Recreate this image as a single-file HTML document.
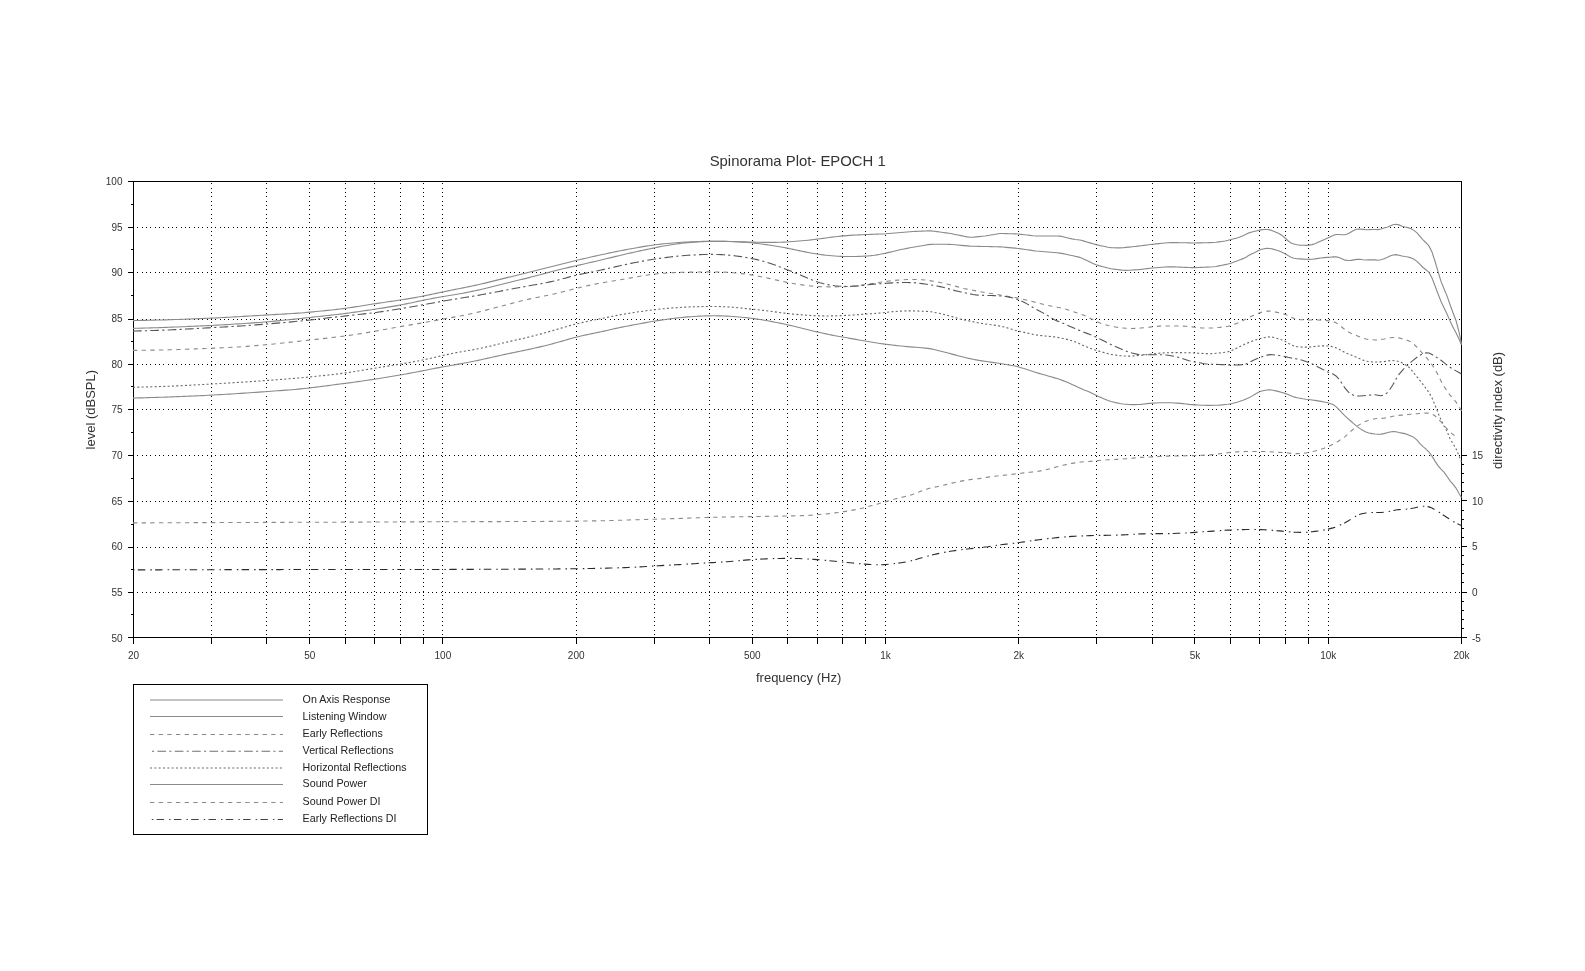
<!DOCTYPE html><html><head><meta charset="utf-8"><style>html,body{margin:0;padding:0;background:#fff;width:1585px;height:971px;overflow:hidden}svg{display:block;will-change:transform}</style></head><body><svg width="1585" height="971" viewBox="0 0 1585 971">
<defs><pattern id="dh" patternUnits="userSpaceOnUse" x="12" y="0" width="13" height="2"><rect x="0" y="0" width="1" height="2" fill="#000"/><rect x="4" y="0" width="1" height="2" fill="#000"/><rect x="8" y="0" width="1" height="2" fill="#000"/></pattern>
<pattern id="dv" patternUnits="userSpaceOnUse" x="0" y="6" width="2" height="13"><rect x="0" y="0" width="2" height="1" fill="#000"/><rect x="0" y="4" width="2" height="1" fill="#000"/><rect x="0" y="8" width="2" height="1" fill="#000"/></pattern></defs>
<rect width="1585" height="971" fill="#fff"/>
<rect x="211" y="183" width="1" height="454" fill="url(#dv)"/>
<rect x="266" y="183" width="1" height="454" fill="url(#dv)"/>
<rect x="309" y="183" width="1" height="454" fill="url(#dv)"/>
<rect x="345" y="183" width="1" height="454" fill="url(#dv)"/>
<rect x="374" y="183" width="1" height="454" fill="url(#dv)"/>
<rect x="400" y="183" width="1" height="454" fill="url(#dv)"/>
<rect x="423" y="183" width="1" height="454" fill="url(#dv)"/>
<rect x="442" y="183" width="1" height="454" fill="url(#dv)"/>
<rect x="576" y="183" width="1" height="454" fill="url(#dv)"/>
<rect x="654" y="183" width="1" height="454" fill="url(#dv)"/>
<rect x="709" y="183" width="1" height="454" fill="url(#dv)"/>
<rect x="752" y="183" width="1" height="454" fill="url(#dv)"/>
<rect x="787" y="183" width="1" height="454" fill="url(#dv)"/>
<rect x="817" y="183" width="1" height="454" fill="url(#dv)"/>
<rect x="842" y="183" width="1" height="454" fill="url(#dv)"/>
<rect x="865" y="183" width="1" height="454" fill="url(#dv)"/>
<rect x="885" y="183" width="1" height="454" fill="url(#dv)"/>
<rect x="1018" y="183" width="1" height="454" fill="url(#dv)"/>
<rect x="1096" y="183" width="1" height="454" fill="url(#dv)"/>
<rect x="1152" y="183" width="1" height="454" fill="url(#dv)"/>
<rect x="1194" y="183" width="1" height="454" fill="url(#dv)"/>
<rect x="1230" y="183" width="1" height="454" fill="url(#dv)"/>
<rect x="1259" y="183" width="1" height="454" fill="url(#dv)"/>
<rect x="1285" y="183" width="1" height="454" fill="url(#dv)"/>
<rect x="1308" y="183" width="1" height="454" fill="url(#dv)"/>
<rect x="1328" y="183" width="1" height="454" fill="url(#dv)"/>
<rect x="137" y="592" width="1324" height="1" fill="url(#dh)"/>
<rect x="137" y="547" width="1324" height="1" fill="url(#dh)"/>
<rect x="137" y="501" width="1324" height="1" fill="url(#dh)"/>
<rect x="137" y="455" width="1324" height="1" fill="url(#dh)"/>
<rect x="137" y="409" width="1324" height="1" fill="url(#dh)"/>
<rect x="137" y="364" width="1324" height="1" fill="url(#dh)"/>
<rect x="137" y="319" width="1324" height="1" fill="url(#dh)"/>
<rect x="137" y="272" width="1324" height="1" fill="url(#dh)"/>
<rect x="137" y="227" width="1324" height="1" fill="url(#dh)"/>
<g fill="#000" shape-rendering="crispEdges">
<rect x="128" y="181" width="1334" height="1"/>
<rect x="133" y="637" width="1329" height="1"/>
<rect x="133" y="181" width="1" height="463"/>
<rect x="1461" y="181" width="1" height="463"/>
<rect x="128" y="637" width="5" height="1"/>
<rect x="131" y="614" width="2" height="1"/>
<rect x="128" y="592" width="5" height="1"/>
<rect x="131" y="569" width="2" height="1"/>
<rect x="128" y="547" width="5" height="1"/>
<rect x="131" y="524" width="2" height="1"/>
<rect x="128" y="501" width="5" height="1"/>
<rect x="131" y="478" width="2" height="1"/>
<rect x="128" y="455" width="5" height="1"/>
<rect x="131" y="432" width="2" height="1"/>
<rect x="128" y="409" width="5" height="1"/>
<rect x="131" y="386" width="2" height="1"/>
<rect x="128" y="364" width="5" height="1"/>
<rect x="131" y="341" width="2" height="1"/>
<rect x="128" y="319" width="5" height="1"/>
<rect x="131" y="295" width="2" height="1"/>
<rect x="128" y="272" width="5" height="1"/>
<rect x="131" y="249" width="2" height="1"/>
<rect x="128" y="227" width="5" height="1"/>
<rect x="131" y="204" width="2" height="1"/>
<rect x="128" y="181" width="5" height="1"/>
<rect x="1462" y="637" width="5" height="1"/>
<rect x="1462" y="628" width="2" height="1"/>
<rect x="1462" y="619" width="2" height="1"/>
<rect x="1462" y="610" width="2" height="1"/>
<rect x="1462" y="601" width="2" height="1"/>
<rect x="1462" y="592" width="5" height="1"/>
<rect x="1462" y="582" width="2" height="1"/>
<rect x="1462" y="573" width="2" height="1"/>
<rect x="1462" y="564" width="2" height="1"/>
<rect x="1462" y="555" width="2" height="1"/>
<rect x="1462" y="546" width="5" height="1"/>
<rect x="1462" y="537" width="2" height="1"/>
<rect x="1462" y="528" width="2" height="1"/>
<rect x="1462" y="519" width="2" height="1"/>
<rect x="1462" y="510" width="2" height="1"/>
<rect x="1462" y="500" width="5" height="1"/>
<rect x="1462" y="491" width="2" height="1"/>
<rect x="1462" y="482" width="2" height="1"/>
<rect x="1462" y="473" width="2" height="1"/>
<rect x="1462" y="464" width="2" height="1"/>
<rect x="1462" y="455" width="5" height="1"/>
<rect x="133" y="638" width="1" height="6"/>
<rect x="211" y="638" width="1" height="6"/>
<rect x="266" y="638" width="1" height="6"/>
<rect x="309" y="638" width="1" height="6"/>
<rect x="345" y="638" width="1" height="6"/>
<rect x="374" y="638" width="1" height="6"/>
<rect x="400" y="638" width="1" height="6"/>
<rect x="423" y="638" width="1" height="6"/>
<rect x="442" y="638" width="1" height="6"/>
<rect x="576" y="638" width="1" height="6"/>
<rect x="654" y="638" width="1" height="6"/>
<rect x="709" y="638" width="1" height="6"/>
<rect x="752" y="638" width="1" height="6"/>
<rect x="787" y="638" width="1" height="6"/>
<rect x="817" y="638" width="1" height="6"/>
<rect x="842" y="638" width="1" height="6"/>
<rect x="865" y="638" width="1" height="6"/>
<rect x="885" y="638" width="1" height="6"/>
<rect x="1018" y="638" width="1" height="6"/>
<rect x="1096" y="638" width="1" height="6"/>
<rect x="1152" y="638" width="1" height="6"/>
<rect x="1194" y="638" width="1" height="6"/>
<rect x="1230" y="638" width="1" height="6"/>
<rect x="1259" y="638" width="1" height="6"/>
<rect x="1285" y="638" width="1" height="6"/>
<rect x="1308" y="638" width="1" height="6"/>
<rect x="1328" y="638" width="1" height="6"/>
<rect x="1461" y="638" width="1" height="6"/>
</g>
<g fill="none" stroke-width="1.1">
<path d="M133.0,320.60 L136.0,320.54 L139.0,320.47 L142.0,320.41 L145.0,320.34 L148.0,320.28 L151.0,320.21 L154.0,320.14 L157.0,320.07 L160.0,320.00 L163.0,319.93 L166.0,319.85 L169.0,319.76 L172.0,319.67 L175.0,319.57 L178.0,319.47 L181.0,319.36 L184.0,319.25 L187.0,319.13 L190.0,319.02 L193.0,318.90 L196.0,318.78 L199.0,318.66 L202.0,318.54 L205.0,318.41 L208.0,318.27 L211.0,318.14 L214.0,317.99 L217.0,317.84 L220.0,317.69 L223.0,317.53 L226.0,317.37 L229.0,317.20 L232.0,317.03 L235.0,316.86 L238.0,316.69 L241.0,316.52 L244.0,316.34 L247.0,316.16 L250.0,315.98 L253.0,315.80 L256.0,315.62 L259.0,315.44 L262.0,315.27 L265.0,315.09 L268.0,314.92 L271.0,314.75 L274.0,314.59 L277.0,314.42 L280.0,314.26 L283.0,314.09 L286.0,313.92 L289.0,313.75 L292.0,313.56 L295.0,313.37 L298.0,313.15 L301.0,312.93 L304.0,312.68 L307.0,312.41 L310.0,312.14 L313.0,311.85 L316.0,311.55 L319.0,311.25 L322.0,310.95 L325.0,310.64 L328.0,310.33 L331.0,310.01 L334.0,309.68 L337.0,309.34 L340.0,308.99 L343.0,308.61 L346.0,308.21 L349.0,307.79 L352.0,307.35 L355.0,306.89 L358.0,306.42 L361.0,305.95 L364.0,305.47 L367.0,304.99 L370.0,304.51 L373.0,304.05 L376.0,303.59 L379.0,303.13 L382.0,302.69 L385.0,302.25 L388.0,301.81 L391.0,301.37 L394.0,300.92 L397.0,300.48 L400.0,300.02 L403.0,299.56 L406.0,299.09 L409.0,298.61 L412.0,298.11 L415.0,297.59 L418.0,297.05 L421.0,296.49 L424.0,295.90 L427.0,295.29 L430.0,294.66 L433.0,294.02 L436.0,293.37 L439.0,292.73 L442.0,292.09 L445.0,291.47 L448.0,290.86 L451.0,290.25 L454.0,289.66 L457.0,289.07 L460.0,288.47 L463.0,287.87 L466.0,287.27 L469.0,286.66 L472.0,286.03 L475.0,285.39 L478.0,284.73 L481.0,284.05 L484.0,283.35 L487.0,282.63 L490.0,281.90 L493.0,281.15 L496.0,280.40 L499.0,279.65 L502.0,278.90 L505.0,278.15 L508.0,277.40 L511.0,276.66 L514.0,275.91 L517.0,275.18 L520.0,274.44 L523.0,273.70 L526.0,272.96 L529.0,272.22 L532.0,271.47 L535.0,270.72 L538.0,269.97 L541.0,269.22 L544.0,268.47 L547.0,267.71 L550.0,266.96 L553.0,266.20 L556.0,265.45 L559.0,264.69 L562.0,263.94 L565.0,263.19 L568.0,262.45 L571.0,261.72 L574.0,260.99 L577.0,260.27 L580.0,259.56 L583.0,258.87 L586.0,258.18 L589.0,257.49 L592.0,256.82 L595.0,256.15 L598.0,255.48 L601.0,254.82 L604.0,254.17 L607.0,253.53 L610.0,252.89 L613.0,252.26 L616.0,251.64 L619.0,251.04 L622.0,250.45 L625.0,249.87 L628.0,249.31 L631.0,248.75 L634.0,248.21 L637.0,247.67 L640.0,247.15 L643.0,246.63 L646.0,246.14 L649.0,245.67 L652.0,245.23 L655.0,244.81 L658.0,244.43 L661.0,244.08 L664.0,243.76 L667.0,243.46 L670.0,243.19 L673.0,242.93 L676.0,242.70 L679.0,242.48 L682.0,242.29 L685.0,242.12 L688.0,241.97 L691.0,241.83 L694.0,241.70 L697.0,241.59 L700.0,241.50 L703.0,241.42 L706.0,241.35 L709.0,241.31 L712.0,241.29 L715.0,241.28 L718.0,241.29 L721.0,241.32 L724.0,241.37 L727.0,241.42 L730.0,241.49 L733.0,241.57 L736.0,241.65 L739.0,241.74 L742.0,241.83 L745.0,241.92 L748.0,242.01 L751.0,242.09 L754.0,242.17 L757.0,242.23 L760.0,242.29 L763.0,242.33 L766.0,242.36 L769.0,242.38 L772.0,242.37 L775.0,242.35 L778.0,242.29 L781.0,242.21 L784.0,242.09 L787.0,241.94 L790.0,241.76 L793.0,241.55 L796.0,241.31 L799.0,241.05 L802.0,240.77 L805.0,240.48 L808.0,240.18 L811.0,239.85 L814.0,239.51 L817.0,239.15 L820.0,238.76 L823.0,238.37 L826.0,237.96 L829.0,237.56 L832.0,237.17 L835.0,236.79 L838.0,236.45 L841.0,236.13 L844.0,235.85 L847.0,235.60 L850.0,235.38 L853.0,235.17 L856.0,234.99 L859.0,234.83 L862.0,234.69 L865.0,234.56 L868.0,234.44 L871.0,234.33 L874.0,234.23 L877.0,234.14 L880.0,234.04 L883.0,233.93 L886.0,233.78 L889.0,233.55 L892.0,233.28 L895.0,233.02 L898.0,232.76 L901.0,232.49 L904.0,232.23 L907.0,231.97 L910.0,231.73 L913.0,231.55 L916.0,231.40 L919.0,231.25 L922.0,231.10 L925.0,230.95 L928.0,230.82 L931.0,230.89 L934.0,231.24 L937.0,231.65 L940.0,232.05 L943.0,232.46 L946.0,232.86 L949.0,233.29 L952.0,233.82 L955.0,234.43 L958.0,235.04 L961.0,235.65 L964.0,236.27 L967.0,236.88 L970.0,237.29 L973.0,237.19 L976.0,236.90 L979.0,236.60 L982.0,236.30 L985.0,235.95 L988.0,235.48 L991.0,234.96 L994.0,234.44 L997.0,233.93 L1000.0,233.54 L1003.0,233.51 L1006.0,233.60 L1009.0,233.70 L1012.0,233.80 L1015.0,233.90 L1018.0,234.06 L1021.0,234.36 L1024.0,234.71 L1027.0,235.06 L1030.0,235.41 L1033.0,235.75 L1036.0,235.96 L1039.0,236.00 L1042.0,236.00 L1045.0,236.00 L1048.0,236.00 L1051.0,236.00 L1054.0,236.00 L1057.0,236.01 L1060.0,236.17 L1063.0,236.73 L1066.0,237.44 L1069.0,238.16 L1072.0,238.87 L1075.0,239.47 L1078.0,239.80 L1081.0,240.27 L1084.0,241.10 L1087.0,242.00 L1090.0,242.90 L1093.0,243.80 L1096.0,244.64 L1099.0,245.32 L1102.0,245.94 L1105.0,246.56 L1108.0,247.17 L1111.0,247.59 L1114.0,247.76 L1117.0,247.88 L1120.0,247.90 L1123.0,247.70 L1126.0,247.40 L1129.0,247.10 L1132.0,246.80 L1135.0,246.48 L1138.0,246.11 L1141.0,245.72 L1144.0,245.34 L1147.0,244.95 L1150.0,244.56 L1153.0,244.21 L1156.0,243.90 L1159.0,243.60 L1162.0,243.30 L1165.0,243.00 L1168.0,242.71 L1171.0,242.56 L1174.0,242.58 L1177.0,242.64 L1180.0,242.70 L1183.0,242.76 L1186.0,242.82 L1189.0,242.88 L1192.0,242.94 L1195.0,242.97 L1198.0,242.92 L1201.0,242.85 L1204.0,242.77 L1207.0,242.70 L1210.0,242.62 L1213.0,242.54 L1216.0,242.32 L1219.0,241.92 L1222.0,241.48 L1225.0,241.01 L1228.0,240.34 L1231.0,239.54 L1234.0,238.73 L1237.0,237.91 L1240.0,236.95 L1243.0,235.65 L1246.0,234.22 L1249.0,232.87 L1252.0,231.93 L1255.0,231.24 L1258.0,230.48 L1261.0,229.86 L1264.0,229.54 L1267.0,229.51 L1270.0,229.91 L1273.0,231.04 L1276.0,232.30 L1279.0,233.51 L1282.0,235.44 L1285.0,238.00 L1288.0,240.77 L1291.0,242.94 L1294.0,244.09 L1297.0,244.75 L1300.0,245.13 L1303.0,245.31 L1306.0,245.33 L1309.0,245.16 L1312.0,244.61 L1315.0,243.66 L1318.0,242.36 L1321.0,241.00 L1324.0,239.70 L1327.0,238.33 L1330.0,236.89 L1333.0,235.45 L1336.0,234.56 L1339.0,234.46 L1342.0,234.76 L1345.0,234.81 L1348.0,233.70 L1351.0,232.00 L1354.0,230.23 L1357.0,229.23 L1360.0,229.02 L1363.0,229.38 L1366.0,229.69 L1369.0,229.63 L1372.0,229.49 L1375.0,229.49 L1378.0,229.61 L1381.0,228.97 L1384.0,228.07 L1387.0,227.17 L1390.0,225.99 L1393.0,224.83 L1396.0,224.26 L1399.0,224.88 L1402.0,226.18 L1405.0,227.05 L1408.0,227.61 L1411.0,228.65 L1414.0,230.33 L1417.0,232.84 L1420.0,236.41 L1423.0,239.84 L1426.0,242.74 L1429.0,246.14 L1432.0,252.05 L1435.0,261.25 L1438.0,271.45 L1441.0,281.39 L1444.0,288.81 L1447.0,295.87 L1450.0,304.55 L1453.0,312.69 L1456.0,320.54 L1459.0,331.97 L1461.5,343.90" stroke="#8a8a8a" />
<path d="M133.0,328.40 L136.0,328.31 L139.0,328.22 L142.0,328.13 L145.0,328.04 L148.0,327.95 L151.0,327.86 L154.0,327.77 L157.0,327.68 L160.0,327.59 L163.0,327.49 L166.0,327.39 L169.0,327.28 L172.0,327.17 L175.0,327.05 L178.0,326.93 L181.0,326.81 L184.0,326.68 L187.0,326.55 L190.0,326.42 L193.0,326.29 L196.0,326.15 L199.0,326.02 L202.0,325.88 L205.0,325.74 L208.0,325.59 L211.0,325.44 L214.0,325.28 L217.0,325.12 L220.0,324.96 L223.0,324.79 L226.0,324.61 L229.0,324.44 L232.0,324.26 L235.0,324.07 L238.0,323.88 L241.0,323.69 L244.0,323.50 L247.0,323.30 L250.0,323.09 L253.0,322.88 L256.0,322.66 L259.0,322.44 L262.0,322.21 L265.0,321.96 L268.0,321.71 L271.0,321.44 L274.0,321.16 L277.0,320.88 L280.0,320.59 L283.0,320.29 L286.0,319.99 L289.0,319.69 L292.0,319.39 L295.0,319.08 L298.0,318.77 L301.0,318.45 L304.0,318.13 L307.0,317.81 L310.0,317.48 L313.0,317.15 L316.0,316.82 L319.0,316.49 L322.0,316.15 L325.0,315.82 L328.0,315.48 L331.0,315.14 L334.0,314.80 L337.0,314.45 L340.0,314.09 L343.0,313.72 L346.0,313.34 L349.0,312.94 L352.0,312.54 L355.0,312.12 L358.0,311.70 L361.0,311.27 L364.0,310.83 L367.0,310.39 L370.0,309.95 L373.0,309.50 L376.0,309.04 L379.0,308.58 L382.0,308.11 L385.0,307.64 L388.0,307.15 L391.0,306.66 L394.0,306.14 L397.0,305.61 L400.0,305.06 L403.0,304.49 L406.0,303.90 L409.0,303.29 L412.0,302.67 L415.0,302.04 L418.0,301.40 L421.0,300.77 L424.0,300.15 L427.0,299.53 L430.0,298.93 L433.0,298.34 L436.0,297.78 L439.0,297.24 L442.0,296.72 L445.0,296.22 L448.0,295.74 L451.0,295.26 L454.0,294.77 L457.0,294.26 L460.0,293.74 L463.0,293.19 L466.0,292.62 L469.0,292.03 L472.0,291.41 L475.0,290.77 L478.0,290.11 L481.0,289.43 L484.0,288.72 L487.0,288.00 L490.0,287.26 L493.0,286.51 L496.0,285.75 L499.0,284.99 L502.0,284.24 L505.0,283.49 L508.0,282.75 L511.0,282.02 L514.0,281.29 L517.0,280.56 L520.0,279.83 L523.0,279.10 L526.0,278.35 L529.0,277.60 L532.0,276.83 L535.0,276.04 L538.0,275.25 L541.0,274.45 L544.0,273.65 L547.0,272.85 L550.0,272.06 L553.0,271.28 L556.0,270.52 L559.0,269.77 L562.0,269.03 L565.0,268.31 L568.0,267.60 L571.0,266.90 L574.0,266.21 L577.0,265.52 L580.0,264.84 L583.0,264.17 L586.0,263.49 L589.0,262.81 L592.0,262.13 L595.0,261.44 L598.0,260.74 L601.0,260.03 L604.0,259.31 L607.0,258.58 L610.0,257.85 L613.0,257.12 L616.0,256.39 L619.0,255.67 L622.0,254.96 L625.0,254.26 L628.0,253.58 L631.0,252.90 L634.0,252.23 L637.0,251.56 L640.0,250.90 L643.0,250.25 L646.0,249.61 L649.0,248.97 L652.0,248.35 L655.0,247.74 L658.0,247.15 L661.0,246.57 L664.0,246.01 L667.0,245.47 L670.0,244.95 L673.0,244.47 L676.0,244.01 L679.0,243.60 L682.0,243.24 L685.0,242.91 L688.0,242.62 L691.0,242.37 L694.0,242.15 L697.0,241.95 L700.0,241.78 L703.0,241.63 L706.0,241.51 L709.0,241.42 L712.0,241.36 L715.0,241.33 L718.0,241.33 L721.0,241.35 L724.0,241.40 L727.0,241.47 L730.0,241.55 L733.0,241.66 L736.0,241.78 L739.0,241.93 L742.0,242.10 L745.0,242.30 L748.0,242.54 L751.0,242.80 L754.0,243.11 L757.0,243.45 L760.0,243.82 L763.0,244.22 L766.0,244.64 L769.0,245.08 L772.0,245.53 L775.0,246.01 L778.0,246.50 L781.0,247.02 L784.0,247.57 L787.0,248.15 L790.0,248.75 L793.0,249.37 L796.0,250.01 L799.0,250.64 L802.0,251.27 L805.0,251.88 L808.0,252.47 L811.0,253.04 L814.0,253.56 L817.0,254.05 L820.0,254.50 L823.0,254.90 L826.0,255.25 L829.0,255.56 L832.0,255.82 L835.0,256.03 L838.0,256.20 L841.0,256.33 L844.0,256.43 L847.0,256.48 L850.0,256.51 L853.0,256.51 L856.0,256.49 L859.0,256.42 L862.0,256.31 L865.0,256.15 L868.0,255.93 L871.0,255.64 L874.0,255.28 L877.0,254.84 L880.0,254.33 L883.0,253.75 L886.0,253.12 L889.0,252.41 L892.0,251.67 L895.0,250.93 L898.0,250.20 L901.0,249.53 L904.0,248.94 L907.0,248.37 L910.0,247.81 L913.0,247.28 L916.0,246.75 L919.0,246.23 L922.0,245.70 L925.0,245.18 L928.0,244.67 L931.0,244.35 L934.0,244.30 L937.0,244.30 L940.0,244.30 L943.0,244.30 L946.0,244.30 L949.0,244.33 L952.0,244.50 L955.0,244.78 L958.0,245.06 L961.0,245.34 L964.0,245.63 L967.0,245.91 L970.0,246.15 L973.0,246.26 L976.0,246.32 L979.0,246.38 L982.0,246.44 L985.0,246.50 L988.0,246.56 L991.0,246.62 L994.0,246.68 L997.0,246.74 L1000.0,246.85 L1003.0,247.07 L1006.0,247.33 L1009.0,247.60 L1012.0,247.87 L1015.0,248.14 L1018.0,248.44 L1021.0,248.84 L1024.0,249.28 L1027.0,249.72 L1030.0,250.16 L1033.0,250.60 L1036.0,250.96 L1039.0,251.24 L1042.0,251.49 L1045.0,251.74 L1048.0,251.99 L1051.0,252.24 L1054.0,252.50 L1057.0,252.75 L1060.0,253.09 L1063.0,253.65 L1066.0,254.29 L1069.0,254.94 L1072.0,255.58 L1075.0,256.23 L1078.0,256.90 L1081.0,257.85 L1084.0,259.18 L1087.0,260.58 L1090.0,261.99 L1093.0,263.39 L1096.0,264.66 L1099.0,265.61 L1102.0,266.43 L1105.0,267.24 L1108.0,268.04 L1111.0,268.68 L1114.0,269.11 L1117.0,269.49 L1120.0,269.87 L1123.0,270.23 L1126.0,270.37 L1129.0,270.23 L1132.0,270.03 L1135.0,269.83 L1138.0,269.63 L1141.0,269.36 L1144.0,269.00 L1147.0,268.63 L1150.0,268.26 L1153.0,267.94 L1156.0,267.71 L1159.0,267.49 L1162.0,267.28 L1165.0,267.06 L1168.0,266.86 L1171.0,266.77 L1174.0,266.86 L1177.0,266.98 L1180.0,267.10 L1183.0,267.22 L1186.0,267.34 L1189.0,267.46 L1192.0,267.58 L1195.0,267.64 L1198.0,267.55 L1201.0,267.40 L1204.0,267.25 L1207.0,267.10 L1210.0,266.95 L1213.0,266.78 L1216.0,266.44 L1219.0,265.87 L1222.0,265.25 L1225.0,264.63 L1228.0,263.99 L1231.0,263.17 L1234.0,262.08 L1237.0,260.94 L1240.0,259.80 L1243.0,258.63 L1246.0,257.15 L1249.0,255.33 L1252.0,253.78 L1255.0,252.40 L1258.0,250.85 L1261.0,249.56 L1264.0,248.80 L1267.0,248.41 L1270.0,248.45 L1273.0,249.12 L1276.0,250.05 L1279.0,251.09 L1282.0,252.26 L1285.0,253.70 L1288.0,255.57 L1291.0,257.20 L1294.0,258.20 L1297.0,258.69 L1300.0,258.91 L1303.0,259.13 L1306.0,259.30 L1309.0,259.34 L1312.0,259.18 L1315.0,258.84 L1318.0,258.37 L1321.0,257.93 L1324.0,257.62 L1327.0,257.42 L1330.0,257.22 L1333.0,256.86 L1336.0,256.87 L1339.0,257.56 L1342.0,258.84 L1345.0,260.14 L1348.0,260.57 L1351.0,260.40 L1354.0,259.86 L1357.0,259.42 L1360.0,259.31 L1363.0,259.68 L1366.0,259.96 L1369.0,259.87 L1372.0,259.77 L1375.0,259.91 L1378.0,260.22 L1381.0,259.78 L1384.0,258.79 L1387.0,257.46 L1390.0,256.03 L1393.0,254.94 L1396.0,254.62 L1399.0,255.17 L1402.0,256.04 L1405.0,256.55 L1408.0,256.94 L1411.0,257.88 L1414.0,259.35 L1417.0,261.42 L1420.0,264.41 L1423.0,267.46 L1426.0,269.70 L1429.0,272.45 L1432.0,278.03 L1435.0,285.81 L1438.0,293.81 L1441.0,301.52 L1444.0,307.86 L1447.0,313.98 L1450.0,320.88 L1453.0,327.16 L1456.0,332.69 L1459.0,338.92 L1461.5,345.07" stroke="#8a8a8a" />
<path d="M133.0,350.40 L136.0,350.36 L139.0,350.32 L142.0,350.28 L145.0,350.24 L148.0,350.20 L151.0,350.15 L154.0,350.11 L157.0,350.06 L160.0,350.01 L163.0,349.96 L166.0,349.90 L169.0,349.82 L172.0,349.74 L175.0,349.65 L178.0,349.56 L181.0,349.45 L184.0,349.34 L187.0,349.23 L190.0,349.12 L193.0,349.00 L196.0,348.88 L199.0,348.76 L202.0,348.65 L205.0,348.52 L208.0,348.40 L211.0,348.28 L214.0,348.15 L217.0,348.02 L220.0,347.89 L223.0,347.75 L226.0,347.61 L229.0,347.47 L232.0,347.31 L235.0,347.15 L238.0,346.97 L241.0,346.78 L244.0,346.57 L247.0,346.35 L250.0,346.12 L253.0,345.87 L256.0,345.62 L259.0,345.36 L262.0,345.09 L265.0,344.81 L268.0,344.52 L271.0,344.23 L274.0,343.93 L277.0,343.62 L280.0,343.31 L283.0,342.99 L286.0,342.68 L289.0,342.36 L292.0,342.04 L295.0,341.71 L298.0,341.39 L301.0,341.06 L304.0,340.73 L307.0,340.40 L310.0,340.06 L313.0,339.72 L316.0,339.38 L319.0,339.05 L322.0,338.70 L325.0,338.36 L328.0,338.02 L331.0,337.67 L334.0,337.32 L337.0,336.96 L340.0,336.58 L343.0,336.20 L346.0,335.80 L349.0,335.38 L352.0,334.95 L355.0,334.51 L358.0,334.05 L361.0,333.59 L364.0,333.11 L367.0,332.63 L370.0,332.13 L373.0,331.61 L376.0,331.08 L379.0,330.54 L382.0,329.99 L385.0,329.43 L388.0,328.86 L391.0,328.30 L394.0,327.75 L397.0,327.20 L400.0,326.67 L403.0,326.16 L406.0,325.65 L409.0,325.15 L412.0,324.66 L415.0,324.16 L418.0,323.65 L421.0,323.13 L424.0,322.59 L427.0,322.04 L430.0,321.48 L433.0,320.91 L436.0,320.34 L439.0,319.77 L442.0,319.22 L445.0,318.69 L448.0,318.16 L451.0,317.63 L454.0,317.11 L457.0,316.57 L460.0,316.01 L463.0,315.42 L466.0,314.81 L469.0,314.17 L472.0,313.51 L475.0,312.83 L478.0,312.12 L481.0,311.39 L484.0,310.65 L487.0,309.90 L490.0,309.13 L493.0,308.35 L496.0,307.56 L499.0,306.77 L502.0,305.98 L505.0,305.19 L508.0,304.39 L511.0,303.60 L514.0,302.81 L517.0,302.03 L520.0,301.26 L523.0,300.51 L526.0,299.79 L529.0,299.10 L532.0,298.45 L535.0,297.82 L538.0,297.22 L541.0,296.63 L544.0,296.05 L547.0,295.46 L550.0,294.84 L553.0,294.20 L556.0,293.52 L559.0,292.81 L562.0,292.06 L565.0,291.29 L568.0,290.51 L571.0,289.73 L574.0,288.96 L577.0,288.20 L580.0,287.47 L583.0,286.76 L586.0,286.07 L589.0,285.41 L592.0,284.77 L595.0,284.16 L598.0,283.58 L601.0,283.02 L604.0,282.48 L607.0,281.97 L610.0,281.48 L613.0,280.99 L616.0,280.50 L619.0,280.00 L622.0,279.49 L625.0,278.98 L628.0,278.44 L631.0,277.90 L634.0,277.36 L637.0,276.82 L640.0,276.28 L643.0,275.76 L646.0,275.27 L649.0,274.81 L652.0,274.39 L655.0,274.02 L658.0,273.70 L661.0,273.42 L664.0,273.18 L667.0,272.98 L670.0,272.80 L673.0,272.65 L676.0,272.51 L679.0,272.40 L682.0,272.30 L685.0,272.21 L688.0,272.14 L691.0,272.08 L694.0,272.03 L697.0,271.99 L700.0,271.95 L703.0,271.92 L706.0,271.91 L709.0,271.90 L712.0,271.91 L715.0,271.93 L718.0,271.97 L721.0,272.04 L724.0,272.14 L727.0,272.28 L730.0,272.46 L733.0,272.68 L736.0,272.95 L739.0,273.26 L742.0,273.61 L745.0,273.99 L748.0,274.42 L751.0,274.88 L754.0,275.38 L757.0,275.92 L760.0,276.49 L763.0,277.09 L766.0,277.72 L769.0,278.38 L772.0,279.05 L775.0,279.73 L778.0,280.41 L781.0,281.08 L784.0,281.72 L787.0,282.34 L790.0,282.92 L793.0,283.46 L796.0,283.96 L799.0,284.43 L802.0,284.86 L805.0,285.26 L808.0,285.62 L811.0,285.93 L814.0,286.20 L817.0,286.42 L820.0,286.60 L823.0,286.72 L826.0,286.81 L829.0,286.85 L832.0,286.87 L835.0,286.85 L838.0,286.80 L841.0,286.72 L844.0,286.61 L847.0,286.46 L850.0,286.27 L853.0,286.07 L856.0,285.82 L859.0,285.51 L862.0,285.15 L865.0,284.74 L868.0,284.28 L871.0,283.80 L874.0,283.32 L877.0,282.82 L880.0,282.33 L883.0,281.86 L886.0,281.42 L889.0,281.06 L892.0,280.73 L895.0,280.42 L898.0,280.16 L901.0,279.92 L904.0,279.70 L907.0,279.57 L910.0,279.50 L913.0,279.45 L916.0,279.47 L919.0,279.60 L922.0,279.75 L925.0,279.98 L928.0,280.38 L931.0,280.86 L934.0,281.35 L937.0,281.90 L940.0,282.50 L943.0,283.11 L946.0,283.78 L949.0,284.54 L952.0,285.32 L955.0,286.10 L958.0,286.88 L961.0,287.66 L964.0,288.42 L967.0,289.09 L970.0,289.70 L973.0,290.30 L976.0,290.89 L979.0,291.46 L982.0,292.03 L985.0,292.57 L988.0,293.05 L991.0,293.50 L994.0,293.96 L997.0,294.44 L1000.0,294.95 L1003.0,295.46 L1006.0,295.97 L1009.0,296.48 L1012.0,296.99 L1015.0,297.53 L1018.0,298.16 L1021.0,298.82 L1024.0,299.49 L1027.0,300.20 L1030.0,300.95 L1033.0,301.70 L1036.0,302.46 L1039.0,303.24 L1042.0,304.02 L1045.0,304.76 L1048.0,305.40 L1051.0,306.00 L1054.0,306.60 L1057.0,307.20 L1060.0,307.80 L1063.0,308.42 L1066.0,309.18 L1069.0,310.16 L1072.0,311.18 L1075.0,312.20 L1078.0,313.22 L1081.0,314.24 L1084.0,315.31 L1087.0,316.64 L1090.0,318.16 L1093.0,319.68 L1096.0,321.15 L1099.0,322.55 L1102.0,323.66 L1105.0,324.55 L1108.0,325.41 L1111.0,326.13 L1114.0,326.68 L1117.0,327.19 L1120.0,327.64 L1123.0,327.97 L1126.0,328.24 L1129.0,328.47 L1132.0,328.51 L1135.0,328.40 L1138.0,328.27 L1141.0,328.07 L1144.0,327.76 L1147.0,327.43 L1150.0,327.10 L1153.0,326.77 L1156.0,326.44 L1159.0,326.14 L1162.0,326.01 L1165.0,326.00 L1168.0,326.00 L1171.0,326.00 L1174.0,326.00 L1177.0,326.00 L1180.0,326.03 L1183.0,326.15 L1186.0,326.30 L1189.0,326.48 L1192.0,326.84 L1195.0,327.31 L1198.0,327.70 L1201.0,327.87 L1204.0,327.95 L1207.0,328.02 L1210.0,328.03 L1213.0,327.89 L1216.0,327.68 L1219.0,327.45 L1222.0,327.13 L1225.0,326.75 L1228.0,326.33 L1231.0,325.62 L1234.0,324.50 L1237.0,323.30 L1240.0,322.02 L1243.0,320.57 L1246.0,319.04 L1249.0,317.53 L1252.0,316.11 L1255.0,314.75 L1258.0,313.43 L1261.0,312.36 L1264.0,311.65 L1267.0,311.13 L1270.0,311.16 L1273.0,311.59 L1276.0,312.15 L1279.0,312.82 L1282.0,313.52 L1285.0,314.35 L1288.0,315.54 L1291.0,317.02 L1294.0,318.56 L1297.0,319.36 L1300.0,319.59 L1303.0,319.72 L1306.0,319.84 L1309.0,319.95 L1312.0,320.00 L1315.0,320.00 L1318.0,320.01 L1321.0,320.12 L1324.0,320.36 L1327.0,320.63 L1330.0,320.96 L1333.0,321.50 L1336.0,322.69 L1339.0,324.74 L1342.0,327.21 L1345.0,329.68 L1348.0,331.61 L1351.0,333.20 L1354.0,334.55 L1357.0,335.80 L1360.0,337.00 L1363.0,338.17 L1366.0,339.02 L1369.0,339.44 L1372.0,339.76 L1375.0,339.95 L1378.0,339.76 L1381.0,339.44 L1384.0,339.06 L1387.0,338.43 L1390.0,337.77 L1393.0,337.48 L1396.0,337.45 L1399.0,337.91 L1402.0,338.74 L1405.0,339.60 L1408.0,340.50 L1411.0,341.96 L1414.0,344.30 L1417.0,347.25 L1420.0,350.54 L1423.0,353.87 L1426.0,357.20 L1429.0,360.69 L1432.0,364.78 L1435.0,369.33 L1438.0,374.70 L1441.0,381.00 L1444.0,386.40 L1447.0,390.94 L1450.0,395.09 L1453.0,398.59 L1456.0,402.01 L1459.0,406.43 L1461.5,410.97" stroke="#8a8a8a" stroke-dasharray="4.33 4.33"/>
<path d="M133.0,331.10 L136.0,331.01 L139.0,330.92 L142.0,330.83 L145.0,330.74 L148.0,330.65 L151.0,330.56 L154.0,330.47 L157.0,330.37 L160.0,330.28 L163.0,330.17 L166.0,330.06 L169.0,329.94 L172.0,329.81 L175.0,329.67 L178.0,329.52 L181.0,329.36 L184.0,329.21 L187.0,329.04 L190.0,328.88 L193.0,328.71 L196.0,328.54 L199.0,328.37 L202.0,328.21 L205.0,328.04 L208.0,327.87 L211.0,327.70 L214.0,327.54 L217.0,327.37 L220.0,327.20 L223.0,327.03 L226.0,326.86 L229.0,326.69 L232.0,326.52 L235.0,326.33 L238.0,326.14 L241.0,325.95 L244.0,325.74 L247.0,325.53 L250.0,325.31 L253.0,325.09 L256.0,324.86 L259.0,324.62 L262.0,324.39 L265.0,324.15 L268.0,323.90 L271.0,323.66 L274.0,323.41 L277.0,323.15 L280.0,322.90 L283.0,322.64 L286.0,322.38 L289.0,322.12 L292.0,321.84 L295.0,321.56 L298.0,321.27 L301.0,320.97 L304.0,320.65 L307.0,320.33 L310.0,320.00 L313.0,319.65 L316.0,319.31 L319.0,318.96 L322.0,318.61 L325.0,318.26 L328.0,317.90 L331.0,317.55 L334.0,317.21 L337.0,316.86 L340.0,316.52 L343.0,316.18 L346.0,315.85 L349.0,315.52 L352.0,315.19 L355.0,314.87 L358.0,314.55 L361.0,314.23 L364.0,313.89 L367.0,313.55 L370.0,313.20 L373.0,312.83 L376.0,312.44 L379.0,312.03 L382.0,311.61 L385.0,311.17 L388.0,310.71 L391.0,310.25 L394.0,309.78 L397.0,309.29 L400.0,308.80 L403.0,308.30 L406.0,307.79 L409.0,307.27 L412.0,306.74 L415.0,306.21 L418.0,305.68 L421.0,305.14 L424.0,304.60 L427.0,304.05 L430.0,303.51 L433.0,302.96 L436.0,302.42 L439.0,301.88 L442.0,301.34 L445.0,300.81 L448.0,300.29 L451.0,299.77 L454.0,299.27 L457.0,298.77 L460.0,298.29 L463.0,297.81 L466.0,297.33 L469.0,296.85 L472.0,296.36 L475.0,295.87 L478.0,295.36 L481.0,294.83 L484.0,294.29 L487.0,293.73 L490.0,293.16 L493.0,292.59 L496.0,292.00 L499.0,291.42 L502.0,290.84 L505.0,290.26 L508.0,289.69 L511.0,289.12 L514.0,288.56 L517.0,288.01 L520.0,287.45 L523.0,286.91 L526.0,286.36 L529.0,285.82 L532.0,285.29 L535.0,284.75 L538.0,284.21 L541.0,283.67 L544.0,283.10 L547.0,282.51 L550.0,281.89 L553.0,281.23 L556.0,280.52 L559.0,279.77 L562.0,278.99 L565.0,278.18 L568.0,277.38 L571.0,276.58 L574.0,275.82 L577.0,275.09 L580.0,274.40 L583.0,273.75 L586.0,273.13 L589.0,272.53 L592.0,271.94 L595.0,271.33 L598.0,270.71 L601.0,270.07 L604.0,269.41 L607.0,268.73 L610.0,268.03 L613.0,267.34 L616.0,266.64 L619.0,265.96 L622.0,265.29 L625.0,264.65 L628.0,264.02 L631.0,263.41 L634.0,262.81 L637.0,262.22 L640.0,261.65 L643.0,261.09 L646.0,260.54 L649.0,260.01 L652.0,259.51 L655.0,259.03 L658.0,258.57 L661.0,258.15 L664.0,257.74 L667.0,257.36 L670.0,257.00 L673.0,256.66 L676.0,256.34 L679.0,256.05 L682.0,255.78 L685.0,255.54 L688.0,255.31 L691.0,255.11 L694.0,254.93 L697.0,254.77 L700.0,254.63 L703.0,254.52 L706.0,254.44 L709.0,254.39 L712.0,254.39 L715.0,254.43 L718.0,254.51 L721.0,254.63 L724.0,254.80 L727.0,255.01 L730.0,255.27 L733.0,255.59 L736.0,255.94 L739.0,256.35 L742.0,256.79 L745.0,257.28 L748.0,257.80 L751.0,258.37 L754.0,258.99 L757.0,259.66 L760.0,260.39 L763.0,261.18 L766.0,262.05 L769.0,263.00 L772.0,264.01 L775.0,265.08 L778.0,266.20 L781.0,267.34 L784.0,268.49 L787.0,269.65 L790.0,270.82 L793.0,272.00 L796.0,273.21 L799.0,274.45 L802.0,275.73 L805.0,277.03 L808.0,278.32 L811.0,279.56 L814.0,280.74 L817.0,281.80 L820.0,282.75 L823.0,283.58 L826.0,284.28 L829.0,284.87 L832.0,285.36 L835.0,285.75 L838.0,286.05 L841.0,286.27 L844.0,286.40 L847.0,286.44 L850.0,286.39 L853.0,286.31 L856.0,286.13 L859.0,285.86 L862.0,285.52 L865.0,285.13 L868.0,284.75 L871.0,284.42 L874.0,284.15 L877.0,283.93 L880.0,283.71 L883.0,283.50 L886.0,283.30 L889.0,283.10 L892.0,282.90 L895.0,282.73 L898.0,282.64 L901.0,282.58 L904.0,282.53 L907.0,282.54 L910.0,282.60 L913.0,282.67 L916.0,282.86 L919.0,283.22 L922.0,283.61 L925.0,284.02 L928.0,284.48 L931.0,284.96 L934.0,285.46 L937.0,286.03 L940.0,286.65 L943.0,287.29 L946.0,288.03 L949.0,288.90 L952.0,289.80 L955.0,290.64 L958.0,291.33 L961.0,291.96 L964.0,292.59 L967.0,293.22 L970.0,293.85 L973.0,294.46 L976.0,294.90 L979.0,295.10 L982.0,295.25 L985.0,295.38 L988.0,295.46 L991.0,295.52 L994.0,295.60 L997.0,295.75 L1000.0,295.95 L1003.0,296.18 L1006.0,296.55 L1009.0,297.14 L1012.0,297.78 L1015.0,298.55 L1018.0,299.67 L1021.0,300.92 L1024.0,302.24 L1027.0,303.86 L1030.0,305.70 L1033.0,307.55 L1036.0,309.28 L1039.0,310.84 L1042.0,312.37 L1045.0,313.98 L1048.0,315.76 L1051.0,317.62 L1054.0,319.41 L1057.0,320.88 L1060.0,322.10 L1063.0,323.31 L1066.0,324.57 L1069.0,325.90 L1072.0,327.25 L1075.0,328.57 L1078.0,329.80 L1081.0,331.00 L1084.0,332.20 L1087.0,333.38 L1090.0,334.55 L1093.0,335.73 L1096.0,337.03 L1099.0,338.50 L1102.0,340.02 L1105.0,341.55 L1108.0,343.07 L1111.0,344.53 L1114.0,345.90 L1117.0,347.25 L1120.0,348.57 L1123.0,349.80 L1126.0,351.00 L1129.0,352.14 L1132.0,353.02 L1135.0,353.70 L1138.0,354.34 L1141.0,354.73 L1144.0,354.80 L1147.0,354.80 L1150.0,354.79 L1153.0,354.74 L1156.0,354.68 L1159.0,354.65 L1162.0,354.77 L1165.0,355.00 L1168.0,355.26 L1171.0,355.68 L1174.0,356.32 L1177.0,357.01 L1180.0,357.78 L1183.0,358.72 L1186.0,359.74 L1189.0,360.71 L1192.0,361.42 L1195.0,361.95 L1198.0,362.47 L1201.0,363.06 L1204.0,363.70 L1207.0,364.04 L1210.0,364.15 L1213.0,364.24 L1216.0,364.36 L1219.0,364.50 L1222.0,364.65 L1225.0,364.79 L1228.0,364.89 L1231.0,364.98 L1234.0,365.05 L1237.0,364.99 L1240.0,364.85 L1243.0,364.65 L1246.0,363.95 L1249.0,362.56 L1252.0,361.03 L1255.0,359.58 L1258.0,358.30 L1261.0,357.10 L1264.0,355.96 L1267.0,355.09 L1270.0,354.63 L1273.0,354.74 L1276.0,355.06 L1279.0,355.43 L1282.0,355.97 L1285.0,356.65 L1288.0,357.33 L1291.0,357.94 L1294.0,358.44 L1297.0,358.93 L1300.0,359.53 L1303.0,360.43 L1306.0,361.44 L1309.0,362.51 L1312.0,363.84 L1315.0,365.35 L1318.0,366.89 L1321.0,368.47 L1324.0,370.11 L1327.0,371.61 L1330.0,372.92 L1333.0,374.09 L1336.0,375.94 L1339.0,379.04 L1342.0,383.49 L1345.0,388.13 L1348.0,391.70 L1351.0,394.12 L1354.0,395.47 L1357.0,395.99 L1360.0,395.97 L1363.0,395.75 L1366.0,395.48 L1369.0,395.16 L1372.0,394.84 L1375.0,394.75 L1378.0,395.23 L1381.0,395.71 L1384.0,394.97 L1387.0,392.84 L1390.0,389.24 L1393.0,384.53 L1396.0,379.08 L1399.0,374.32 L1402.0,370.77 L1405.0,367.67 L1408.0,364.76 L1411.0,362.05 L1414.0,359.61 L1417.0,357.30 L1420.0,355.26 L1423.0,353.86 L1426.0,352.84 L1429.0,353.00 L1432.0,354.55 L1435.0,356.37 L1438.0,358.21 L1441.0,360.27 L1444.0,362.64 L1447.0,365.06 L1450.0,367.33 L1453.0,369.19 L1456.0,370.89 L1459.0,372.59 L1461.5,374.00" stroke="#555" stroke-dasharray="8.67 3.2 2.17 3.3"/>
<path d="M133.0,387.30 L136.0,387.22 L139.0,387.14 L142.0,387.06 L145.0,386.98 L148.0,386.89 L151.0,386.81 L154.0,386.73 L157.0,386.64 L160.0,386.55 L163.0,386.45 L166.0,386.35 L169.0,386.23 L172.0,386.11 L175.0,385.98 L178.0,385.84 L181.0,385.69 L184.0,385.54 L187.0,385.38 L190.0,385.22 L193.0,385.06 L196.0,384.90 L199.0,384.74 L202.0,384.57 L205.0,384.41 L208.0,384.24 L211.0,384.07 L214.0,383.89 L217.0,383.71 L220.0,383.53 L223.0,383.35 L226.0,383.17 L229.0,382.98 L232.0,382.79 L235.0,382.60 L238.0,382.41 L241.0,382.22 L244.0,382.03 L247.0,381.84 L250.0,381.64 L253.0,381.44 L256.0,381.24 L259.0,381.04 L262.0,380.84 L265.0,380.63 L268.0,380.41 L271.0,380.20 L274.0,379.97 L277.0,379.75 L280.0,379.52 L283.0,379.29 L286.0,379.06 L289.0,378.82 L292.0,378.58 L295.0,378.33 L298.0,378.07 L301.0,377.80 L304.0,377.52 L307.0,377.23 L310.0,376.93 L313.0,376.63 L316.0,376.32 L319.0,376.01 L322.0,375.70 L325.0,375.38 L328.0,375.06 L331.0,374.74 L334.0,374.40 L337.0,374.05 L340.0,373.69 L343.0,373.30 L346.0,372.89 L349.0,372.45 L352.0,372.00 L355.0,371.52 L358.0,371.03 L361.0,370.53 L364.0,370.03 L367.0,369.52 L370.0,369.02 L373.0,368.52 L376.0,368.03 L379.0,367.54 L382.0,367.05 L385.0,366.57 L388.0,366.09 L391.0,365.61 L394.0,365.12 L397.0,364.63 L400.0,364.13 L403.0,363.63 L406.0,363.12 L409.0,362.59 L412.0,362.06 L415.0,361.50 L418.0,360.93 L421.0,360.34 L424.0,359.72 L427.0,359.08 L430.0,358.42 L433.0,357.74 L436.0,357.05 L439.0,356.36 L442.0,355.67 L445.0,355.00 L448.0,354.35 L451.0,353.71 L454.0,353.11 L457.0,352.54 L460.0,351.99 L463.0,351.46 L466.0,350.94 L469.0,350.43 L472.0,349.91 L475.0,349.36 L478.0,348.79 L481.0,348.18 L484.0,347.54 L487.0,346.87 L490.0,346.17 L493.0,345.45 L496.0,344.72 L499.0,343.99 L502.0,343.27 L505.0,342.56 L508.0,341.85 L511.0,341.16 L514.0,340.48 L517.0,339.80 L520.0,339.12 L523.0,338.43 L526.0,337.72 L529.0,336.99 L532.0,336.24 L535.0,335.47 L538.0,334.68 L541.0,333.87 L544.0,333.04 L547.0,332.20 L550.0,331.35 L553.0,330.49 L556.0,329.62 L559.0,328.74 L562.0,327.87 L565.0,327.00 L568.0,326.15 L571.0,325.32 L574.0,324.53 L577.0,323.77 L580.0,323.04 L583.0,322.35 L586.0,321.69 L589.0,321.04 L592.0,320.42 L595.0,319.80 L598.0,319.19 L601.0,318.59 L604.0,317.98 L607.0,317.38 L610.0,316.78 L613.0,316.19 L616.0,315.61 L619.0,315.05 L622.0,314.50 L625.0,313.98 L628.0,313.47 L631.0,312.98 L634.0,312.51 L637.0,312.05 L640.0,311.61 L643.0,311.18 L646.0,310.76 L649.0,310.36 L652.0,309.98 L655.0,309.62 L658.0,309.29 L661.0,308.97 L664.0,308.68 L667.0,308.40 L670.0,308.15 L673.0,307.91 L676.0,307.69 L679.0,307.49 L682.0,307.31 L685.0,307.16 L688.0,307.02 L691.0,306.90 L694.0,306.80 L697.0,306.71 L700.0,306.63 L703.0,306.57 L706.0,306.52 L709.0,306.49 L712.0,306.48 L715.0,306.49 L718.0,306.53 L721.0,306.61 L724.0,306.71 L727.0,306.85 L730.0,307.03 L733.0,307.25 L736.0,307.51 L739.0,307.80 L742.0,308.11 L745.0,308.43 L748.0,308.75 L751.0,309.08 L754.0,309.40 L757.0,309.72 L760.0,310.04 L763.0,310.38 L766.0,310.73 L769.0,311.10 L772.0,311.49 L775.0,311.90 L778.0,312.31 L781.0,312.71 L784.0,313.10 L787.0,313.47 L790.0,313.80 L793.0,314.11 L796.0,314.39 L799.0,314.64 L802.0,314.88 L805.0,315.09 L808.0,315.29 L811.0,315.47 L814.0,315.62 L817.0,315.75 L820.0,315.85 L823.0,315.92 L826.0,315.95 L829.0,315.95 L832.0,315.91 L835.0,315.85 L838.0,315.76 L841.0,315.65 L844.0,315.51 L847.0,315.36 L850.0,315.18 L853.0,315.01 L856.0,314.81 L859.0,314.60 L862.0,314.38 L865.0,314.14 L868.0,313.91 L871.0,313.68 L874.0,313.46 L877.0,313.24 L880.0,313.00 L883.0,312.73 L886.0,312.40 L889.0,312.04 L892.0,311.74 L895.0,311.50 L898.0,311.27 L901.0,311.09 L904.0,310.98 L907.0,310.89 L910.0,310.84 L913.0,310.89 L916.0,310.98 L919.0,311.08 L922.0,311.20 L925.0,311.35 L928.0,311.51 L931.0,311.82 L934.0,312.32 L937.0,312.86 L940.0,313.46 L943.0,314.18 L946.0,314.96 L949.0,315.76 L952.0,316.63 L955.0,317.55 L958.0,318.47 L961.0,319.27 L964.0,319.90 L967.0,320.50 L970.0,321.11 L973.0,321.73 L976.0,322.36 L979.0,322.97 L982.0,323.47 L985.0,323.89 L988.0,324.29 L991.0,324.69 L994.0,325.09 L997.0,325.59 L1000.0,326.15 L1003.0,326.73 L1006.0,327.46 L1009.0,328.38 L1012.0,329.34 L1015.0,330.24 L1018.0,330.99 L1021.0,331.68 L1024.0,332.37 L1027.0,333.04 L1030.0,333.70 L1033.0,334.35 L1036.0,334.89 L1039.0,335.28 L1042.0,335.64 L1045.0,335.98 L1048.0,336.27 L1051.0,336.54 L1054.0,336.84 L1057.0,337.29 L1060.0,337.85 L1063.0,338.43 L1066.0,339.11 L1069.0,339.92 L1072.0,340.77 L1075.0,341.73 L1078.0,342.99 L1081.0,344.36 L1084.0,345.73 L1087.0,347.02 L1090.0,348.26 L1093.0,349.40 L1096.0,350.31 L1099.0,351.13 L1102.0,351.98 L1105.0,352.85 L1108.0,353.70 L1111.0,354.41 L1114.0,354.90 L1117.0,355.35 L1120.0,355.72 L1123.0,355.92 L1126.0,356.04 L1129.0,356.12 L1132.0,356.03 L1135.0,355.80 L1138.0,355.56 L1141.0,355.28 L1144.0,354.96 L1147.0,354.63 L1150.0,354.29 L1153.0,353.94 L1156.0,353.58 L1159.0,353.24 L1162.0,353.01 L1165.0,352.85 L1168.0,352.71 L1171.0,352.62 L1174.0,352.60 L1177.0,352.60 L1180.0,352.61 L1183.0,352.66 L1186.0,352.72 L1189.0,352.79 L1192.0,352.90 L1195.0,353.05 L1198.0,353.20 L1201.0,353.35 L1204.0,353.50 L1207.0,353.65 L1210.0,353.71 L1213.0,353.56 L1216.0,353.32 L1219.0,353.06 L1222.0,352.69 L1225.0,352.25 L1228.0,351.76 L1231.0,350.88 L1234.0,349.46 L1237.0,347.93 L1240.0,346.44 L1243.0,345.05 L1246.0,343.70 L1249.0,342.38 L1252.0,341.23 L1255.0,340.20 L1258.0,339.20 L1261.0,338.34 L1264.0,337.70 L1267.0,337.11 L1270.0,336.82 L1273.0,337.29 L1276.0,338.06 L1279.0,338.88 L1282.0,339.92 L1285.0,341.16 L1288.0,342.93 L1291.0,344.86 L1294.0,345.99 L1297.0,346.65 L1300.0,347.00 L1303.0,347.10 L1306.0,347.10 L1309.0,347.06 L1312.0,346.83 L1315.0,346.45 L1318.0,346.08 L1321.0,345.87 L1324.0,345.88 L1327.0,345.95 L1330.0,346.19 L1333.0,346.87 L1336.0,347.80 L1339.0,349.18 L1342.0,350.87 L1345.0,352.47 L1348.0,353.76 L1351.0,354.94 L1354.0,356.13 L1357.0,357.43 L1360.0,358.80 L1363.0,360.14 L1366.0,361.10 L1369.0,361.54 L1372.0,361.86 L1375.0,362.08 L1378.0,362.01 L1381.0,361.84 L1384.0,361.62 L1387.0,361.18 L1390.0,360.64 L1393.0,360.49 L1396.0,360.91 L1399.0,361.55 L1402.0,362.77 L1405.0,364.43 L1408.0,366.40 L1411.0,369.45 L1414.0,373.16 L1417.0,376.91 L1420.0,380.61 L1423.0,384.38 L1426.0,388.42 L1429.0,392.68 L1432.0,397.89 L1435.0,405.04 L1438.0,412.75 L1441.0,419.96 L1444.0,425.94 L1447.0,431.34 L1450.0,438.51 L1453.0,443.76 L1456.0,448.69 L1459.0,455.61 L1461.5,461.99" stroke="#666" stroke-dasharray="2 2.33"/>
<path d="M133.0,398.10 L136.0,398.01 L139.0,397.92 L142.0,397.83 L145.0,397.74 L148.0,397.65 L151.0,397.56 L154.0,397.47 L157.0,397.38 L160.0,397.29 L163.0,397.19 L166.0,397.09 L169.0,396.98 L172.0,396.87 L175.0,396.75 L178.0,396.63 L181.0,396.51 L184.0,396.38 L187.0,396.25 L190.0,396.12 L193.0,395.99 L196.0,395.85 L199.0,395.72 L202.0,395.58 L205.0,395.44 L208.0,395.29 L211.0,395.14 L214.0,394.98 L217.0,394.82 L220.0,394.66 L223.0,394.49 L226.0,394.31 L229.0,394.13 L232.0,393.95 L235.0,393.76 L238.0,393.57 L241.0,393.38 L244.0,393.17 L247.0,392.97 L250.0,392.76 L253.0,392.54 L256.0,392.33 L259.0,392.11 L262.0,391.90 L265.0,391.68 L268.0,391.47 L271.0,391.25 L274.0,391.04 L277.0,390.82 L280.0,390.61 L283.0,390.39 L286.0,390.17 L289.0,389.94 L292.0,389.69 L295.0,389.44 L298.0,389.16 L301.0,388.87 L304.0,388.55 L307.0,388.21 L310.0,387.86 L313.0,387.50 L316.0,387.12 L319.0,386.74 L322.0,386.36 L325.0,385.98 L328.0,385.59 L331.0,385.20 L334.0,384.81 L337.0,384.42 L340.0,384.03 L343.0,383.63 L346.0,383.23 L349.0,382.83 L352.0,382.42 L355.0,382.01 L358.0,381.60 L361.0,381.18 L364.0,380.76 L367.0,380.33 L370.0,379.89 L373.0,379.44 L376.0,378.98 L379.0,378.52 L382.0,378.04 L385.0,377.56 L388.0,377.06 L391.0,376.56 L394.0,376.05 L397.0,375.54 L400.0,375.01 L403.0,374.48 L406.0,373.94 L409.0,373.39 L412.0,372.83 L415.0,372.26 L418.0,371.69 L421.0,371.10 L424.0,370.52 L427.0,369.92 L430.0,369.33 L433.0,368.74 L436.0,368.16 L439.0,367.59 L442.0,367.03 L445.0,366.49 L448.0,365.97 L451.0,365.44 L454.0,364.92 L457.0,364.39 L460.0,363.85 L463.0,363.31 L466.0,362.74 L469.0,362.17 L472.0,361.58 L475.0,360.97 L478.0,360.35 L481.0,359.71 L484.0,359.06 L487.0,358.39 L490.0,357.72 L493.0,357.03 L496.0,356.35 L499.0,355.68 L502.0,355.01 L505.0,354.36 L508.0,353.72 L511.0,353.09 L514.0,352.47 L517.0,351.85 L520.0,351.24 L523.0,350.62 L526.0,349.99 L529.0,349.36 L532.0,348.70 L535.0,348.03 L538.0,347.35 L541.0,346.65 L544.0,345.92 L547.0,345.18 L550.0,344.41 L553.0,343.62 L556.0,342.80 L559.0,341.96 L562.0,341.10 L565.0,340.23 L568.0,339.37 L571.0,338.54 L574.0,337.73 L577.0,336.97 L580.0,336.25 L583.0,335.56 L586.0,334.91 L589.0,334.28 L592.0,333.66 L595.0,333.04 L598.0,332.41 L601.0,331.76 L604.0,331.10 L607.0,330.43 L610.0,329.75 L613.0,329.08 L616.0,328.41 L619.0,327.76 L622.0,327.12 L625.0,326.51 L628.0,325.92 L631.0,325.34 L634.0,324.77 L637.0,324.22 L640.0,323.67 L643.0,323.13 L646.0,322.60 L649.0,322.08 L652.0,321.58 L655.0,321.08 L658.0,320.60 L661.0,320.14 L664.0,319.69 L667.0,319.25 L670.0,318.84 L673.0,318.45 L676.0,318.08 L679.0,317.74 L682.0,317.43 L685.0,317.16 L688.0,316.91 L691.0,316.69 L694.0,316.49 L697.0,316.31 L700.0,316.15 L703.0,316.02 L706.0,315.92 L709.0,315.85 L712.0,315.81 L715.0,315.81 L718.0,315.84 L721.0,315.91 L724.0,316.00 L727.0,316.13 L730.0,316.29 L733.0,316.49 L736.0,316.71 L739.0,316.96 L742.0,317.25 L745.0,317.55 L748.0,317.89 L751.0,318.26 L754.0,318.66 L757.0,319.09 L760.0,319.55 L763.0,320.03 L766.0,320.54 L769.0,321.07 L772.0,321.62 L775.0,322.20 L778.0,322.79 L781.0,323.40 L784.0,324.04 L787.0,324.69 L790.0,325.36 L793.0,326.05 L796.0,326.76 L799.0,327.48 L802.0,328.22 L805.0,328.96 L808.0,329.71 L811.0,330.45 L814.0,331.18 L817.0,331.89 L820.0,332.58 L823.0,333.25 L826.0,333.89 L829.0,334.51 L832.0,335.10 L835.0,335.67 L838.0,336.22 L841.0,336.76 L844.0,337.29 L847.0,337.81 L850.0,338.34 L853.0,338.86 L856.0,339.39 L859.0,339.92 L862.0,340.46 L865.0,341.00 L868.0,341.53 L871.0,342.04 L874.0,342.53 L877.0,343.00 L880.0,343.45 L883.0,343.88 L886.0,344.28 L889.0,344.66 L892.0,345.02 L895.0,345.35 L898.0,345.68 L901.0,346.00 L904.0,346.30 L907.0,346.60 L910.0,346.88 L913.0,347.11 L916.0,347.32 L919.0,347.54 L922.0,347.80 L925.0,348.10 L928.0,348.42 L931.0,348.88 L934.0,349.56 L937.0,350.28 L940.0,351.01 L943.0,351.78 L946.0,352.56 L949.0,353.34 L952.0,354.12 L955.0,354.90 L958.0,355.68 L961.0,356.45 L964.0,357.20 L967.0,357.95 L970.0,358.66 L973.0,359.27 L976.0,359.84 L979.0,360.39 L982.0,360.87 L985.0,361.30 L988.0,361.72 L991.0,362.16 L994.0,362.61 L997.0,363.07 L1000.0,363.53 L1003.0,364.00 L1006.0,364.48 L1009.0,364.98 L1012.0,365.49 L1015.0,366.08 L1018.0,366.84 L1021.0,367.68 L1024.0,368.54 L1027.0,369.49 L1030.0,370.50 L1033.0,371.51 L1036.0,372.47 L1039.0,373.36 L1042.0,374.23 L1045.0,375.09 L1048.0,375.94 L1051.0,376.78 L1054.0,377.64 L1057.0,378.59 L1060.0,379.60 L1063.0,380.63 L1066.0,381.78 L1069.0,383.10 L1072.0,384.45 L1075.0,385.81 L1078.0,387.18 L1081.0,388.56 L1084.0,389.91 L1087.0,391.11 L1090.0,392.30 L1093.0,393.73 L1096.0,395.26 L1099.0,396.76 L1102.0,398.09 L1105.0,399.30 L1108.0,400.48 L1111.0,401.48 L1114.0,402.22 L1117.0,402.91 L1120.0,403.52 L1123.0,403.93 L1126.0,404.26 L1129.0,404.55 L1132.0,404.65 L1135.0,404.60 L1138.0,404.53 L1141.0,404.35 L1144.0,404.02 L1147.0,403.66 L1150.0,403.34 L1153.0,403.12 L1156.0,402.94 L1159.0,402.78 L1162.0,402.71 L1165.0,402.70 L1168.0,402.71 L1171.0,402.78 L1174.0,402.94 L1177.0,403.12 L1180.0,403.34 L1183.0,403.66 L1186.0,404.02 L1189.0,404.36 L1192.0,404.63 L1195.0,404.85 L1198.0,405.05 L1201.0,405.20 L1204.0,405.28 L1207.0,405.34 L1210.0,405.37 L1213.0,405.31 L1216.0,405.22 L1219.0,405.11 L1222.0,404.87 L1225.0,404.55 L1228.0,404.20 L1231.0,403.69 L1234.0,402.96 L1237.0,402.18 L1240.0,401.30 L1243.0,400.20 L1246.0,399.00 L1249.0,397.73 L1252.0,396.14 L1255.0,394.30 L1258.0,392.49 L1261.0,391.17 L1264.0,390.52 L1267.0,390.02 L1270.0,389.78 L1273.0,390.20 L1276.0,390.88 L1279.0,391.60 L1282.0,392.44 L1285.0,393.38 L1288.0,394.46 L1291.0,395.70 L1294.0,396.90 L1297.0,397.71 L1300.0,398.25 L1303.0,398.75 L1306.0,399.18 L1309.0,399.52 L1312.0,399.93 L1315.0,400.40 L1318.0,400.88 L1321.0,401.40 L1324.0,401.95 L1327.0,402.57 L1330.0,403.43 L1333.0,404.57 L1336.0,406.56 L1339.0,409.66 L1342.0,412.87 L1345.0,415.89 L1348.0,418.64 L1351.0,421.28 L1354.0,423.89 L1357.0,426.34 L1360.0,428.59 L1363.0,430.52 L1366.0,432.03 L1369.0,433.02 L1372.0,433.62 L1375.0,433.97 L1378.0,434.21 L1381.0,434.14 L1384.0,433.63 L1387.0,432.81 L1390.0,431.97 L1393.0,431.55 L1396.0,431.75 L1399.0,432.51 L1402.0,433.09 L1405.0,433.62 L1408.0,434.67 L1411.0,435.90 L1414.0,437.38 L1417.0,440.19 L1420.0,443.69 L1423.0,446.57 L1426.0,449.17 L1429.0,452.01 L1432.0,456.17 L1435.0,461.09 L1438.0,465.55 L1441.0,469.19 L1444.0,472.20 L1447.0,476.31 L1450.0,480.80 L1453.0,484.08 L1456.0,488.07 L1459.0,493.52 L1461.5,497.54" stroke="#8a8a8a" />
<path d="M133.0,522.90 L136.0,522.89 L139.0,522.88 L142.0,522.87 L145.0,522.85 L148.0,522.84 L151.0,522.83 L154.0,522.82 L157.0,522.81 L160.0,522.80 L163.0,522.78 L166.0,522.77 L169.0,522.76 L172.0,522.75 L175.0,522.74 L178.0,522.73 L181.0,522.72 L184.0,522.70 L187.0,522.69 L190.0,522.68 L193.0,522.67 L196.0,522.66 L199.0,522.65 L202.0,522.63 L205.0,522.62 L208.0,522.61 L211.0,522.60 L214.0,522.59 L217.0,522.58 L220.0,522.57 L223.0,522.56 L226.0,522.55 L229.0,522.53 L232.0,522.52 L235.0,522.51 L238.0,522.50 L241.0,522.49 L244.0,522.48 L247.0,522.47 L250.0,522.46 L253.0,522.45 L256.0,522.44 L259.0,522.43 L262.0,522.42 L265.0,522.41 L268.0,522.40 L271.0,522.39 L274.0,522.38 L277.0,522.37 L280.0,522.36 L283.0,522.35 L286.0,522.34 L289.0,522.33 L292.0,522.32 L295.0,522.31 L298.0,522.30 L301.0,522.30 L304.0,522.29 L307.0,522.28 L310.0,522.27 L313.0,522.26 L316.0,522.25 L319.0,522.24 L322.0,522.23 L325.0,522.22 L328.0,522.21 L331.0,522.20 L334.0,522.19 L337.0,522.18 L340.0,522.17 L343.0,522.16 L346.0,522.15 L349.0,522.13 L352.0,522.12 L355.0,522.11 L358.0,522.10 L361.0,522.08 L364.0,522.07 L367.0,522.06 L370.0,522.05 L373.0,522.04 L376.0,522.02 L379.0,522.01 L382.0,522.00 L385.0,521.99 L388.0,521.97 L391.0,521.96 L394.0,521.95 L397.0,521.94 L400.0,521.92 L403.0,521.91 L406.0,521.90 L409.0,521.89 L412.0,521.87 L415.0,521.86 L418.0,521.85 L421.0,521.84 L424.0,521.83 L427.0,521.82 L430.0,521.80 L433.0,521.79 L436.0,521.78 L439.0,521.77 L442.0,521.76 L445.0,521.76 L448.0,521.75 L451.0,521.74 L454.0,521.73 L457.0,521.72 L460.0,521.71 L463.0,521.70 L466.0,521.69 L469.0,521.68 L472.0,521.67 L475.0,521.67 L478.0,521.66 L481.0,521.65 L484.0,521.64 L487.0,521.63 L490.0,521.62 L493.0,521.61 L496.0,521.60 L499.0,521.59 L502.0,521.58 L505.0,521.57 L508.0,521.57 L511.0,521.56 L514.0,521.55 L517.0,521.54 L520.0,521.53 L523.0,521.52 L526.0,521.50 L529.0,521.49 L532.0,521.48 L535.0,521.46 L538.0,521.44 L541.0,521.43 L544.0,521.41 L547.0,521.39 L550.0,521.37 L553.0,521.35 L556.0,521.33 L559.0,521.31 L562.0,521.29 L565.0,521.26 L568.0,521.24 L571.0,521.21 L574.0,521.18 L577.0,521.14 L580.0,521.10 L583.0,521.06 L586.0,521.01 L589.0,520.96 L592.0,520.91 L595.0,520.86 L598.0,520.80 L601.0,520.74 L604.0,520.68 L607.0,520.61 L610.0,520.54 L613.0,520.46 L616.0,520.37 L619.0,520.28 L622.0,520.19 L625.0,520.10 L628.0,520.00 L631.0,519.90 L634.0,519.81 L637.0,519.71 L640.0,519.62 L643.0,519.53 L646.0,519.44 L649.0,519.35 L652.0,519.26 L655.0,519.18 L658.0,519.10 L661.0,519.01 L664.0,518.93 L667.0,518.84 L670.0,518.76 L673.0,518.67 L676.0,518.57 L679.0,518.48 L682.0,518.37 L685.0,518.27 L688.0,518.15 L691.0,518.04 L694.0,517.92 L697.0,517.81 L700.0,517.70 L703.0,517.59 L706.0,517.49 L709.0,517.40 L712.0,517.32 L715.0,517.24 L718.0,517.18 L721.0,517.12 L724.0,517.06 L727.0,517.01 L730.0,516.96 L733.0,516.91 L736.0,516.86 L739.0,516.81 L742.0,516.76 L745.0,516.71 L748.0,516.66 L751.0,516.61 L754.0,516.56 L757.0,516.51 L760.0,516.46 L763.0,516.41 L766.0,516.36 L769.0,516.31 L772.0,516.26 L775.0,516.21 L778.0,516.15 L781.0,516.10 L784.0,516.05 L787.0,516.00 L790.0,515.94 L793.0,515.88 L796.0,515.81 L799.0,515.74 L802.0,515.64 L805.0,515.53 L808.0,515.39 L811.0,515.22 L814.0,515.02 L817.0,514.79 L820.0,514.53 L823.0,514.25 L826.0,513.94 L829.0,513.61 L832.0,513.26 L835.0,512.88 L838.0,512.48 L841.0,512.06 L844.0,511.61 L847.0,511.14 L850.0,510.63 L853.0,510.11 L856.0,509.54 L859.0,508.92 L862.0,508.24 L865.0,507.48 L868.0,506.66 L871.0,505.82 L874.0,504.98 L877.0,504.16 L880.0,503.34 L883.0,502.49 L886.0,501.60 L889.0,500.71 L892.0,499.86 L895.0,499.05 L898.0,498.25 L901.0,497.50 L904.0,496.82 L907.0,496.15 L910.0,495.37 L913.0,494.29 L916.0,493.10 L919.0,491.92 L922.0,490.83 L925.0,489.80 L928.0,488.80 L931.0,487.94 L934.0,487.30 L937.0,486.70 L940.0,486.07 L943.0,485.35 L946.0,484.60 L949.0,483.86 L952.0,483.14 L955.0,482.45 L958.0,481.77 L961.0,481.15 L964.0,480.62 L967.0,480.11 L970.0,479.64 L973.0,479.27 L976.0,478.94 L979.0,478.59 L982.0,478.15 L985.0,477.65 L988.0,477.15 L991.0,476.70 L994.0,476.32 L997.0,475.96 L1000.0,475.62 L1003.0,475.33 L1006.0,475.06 L1009.0,474.77 L1012.0,474.41 L1015.0,474.00 L1018.0,473.58 L1021.0,473.20 L1024.0,472.86 L1027.0,472.53 L1030.0,472.19 L1033.0,471.84 L1036.0,471.48 L1039.0,471.09 L1042.0,470.55 L1045.0,469.90 L1048.0,469.23 L1051.0,468.50 L1054.0,467.68 L1057.0,466.84 L1060.0,466.03 L1063.0,465.31 L1066.0,464.62 L1069.0,463.95 L1072.0,463.37 L1075.0,462.85 L1078.0,462.35 L1081.0,461.97 L1084.0,461.76 L1087.0,461.58 L1090.0,461.37 L1093.0,461.07 L1096.0,460.74 L1099.0,460.43 L1102.0,460.19 L1105.0,460.00 L1108.0,459.82 L1111.0,459.65 L1114.0,459.50 L1117.0,459.35 L1120.0,459.18 L1123.0,458.96 L1126.0,458.72 L1129.0,458.47 L1132.0,458.20 L1135.0,457.90 L1138.0,457.61 L1141.0,457.39 L1144.0,457.28 L1147.0,457.19 L1150.0,457.07 L1153.0,456.89 L1156.0,456.68 L1159.0,456.48 L1162.0,456.32 L1165.0,456.20 L1168.0,456.08 L1171.0,456.01 L1174.0,456.00 L1177.0,456.00 L1180.0,455.98 L1183.0,455.91 L1186.0,455.82 L1189.0,455.73 L1192.0,455.64 L1195.0,455.55 L1198.0,455.46 L1201.0,455.34 L1204.0,455.20 L1207.0,455.05 L1210.0,454.86 L1213.0,454.57 L1216.0,454.24 L1219.0,453.90 L1222.0,453.52 L1225.0,453.10 L1228.0,452.69 L1231.0,452.34 L1234.0,452.08 L1237.0,451.84 L1240.0,451.65 L1243.0,451.58 L1246.0,451.56 L1249.0,451.54 L1252.0,451.52 L1255.0,451.50 L1258.0,451.50 L1261.0,451.50 L1264.0,451.52 L1267.0,451.63 L1270.0,451.80 L1273.0,451.98 L1276.0,452.16 L1279.0,452.34 L1282.0,452.52 L1285.0,452.73 L1288.0,453.03 L1291.0,453.36 L1294.0,453.64 L1297.0,453.66 L1300.0,453.50 L1303.0,453.30 L1306.0,452.93 L1309.0,452.32 L1312.0,451.66 L1315.0,450.95 L1318.0,450.13 L1321.0,449.26 L1324.0,448.33 L1327.0,447.14 L1330.0,445.75 L1333.0,444.32 L1336.0,442.68 L1339.0,440.76 L1342.0,438.77 L1345.0,436.60 L1348.0,433.97 L1351.0,431.16 L1354.0,428.44 L1357.0,426.22 L1360.0,424.35 L1363.0,422.56 L1366.0,421.14 L1369.0,420.22 L1372.0,419.42 L1375.0,418.76 L1378.0,418.49 L1381.0,418.36 L1384.0,418.18 L1387.0,417.70 L1390.0,417.00 L1393.0,416.30 L1396.0,415.74 L1399.0,415.40 L1402.0,415.10 L1405.0,414.81 L1408.0,414.56 L1411.0,414.32 L1414.0,414.07 L1417.0,413.80 L1420.0,413.50 L1423.0,413.21 L1426.0,413.03 L1429.0,413.14 L1432.0,413.95 L1435.0,415.76 L1438.0,418.85 L1441.0,421.92 L1444.0,425.06 L1447.0,428.74 L1450.0,431.98 L1453.0,434.56 L1456.0,436.53 L1458.0,437.56" stroke="#8a8a8a" stroke-dasharray="4.33 4.33"/>
<path d="M133.0,569.90 L136.0,569.89 L139.0,569.88 L142.0,569.88 L145.0,569.87 L148.0,569.86 L151.0,569.85 L154.0,569.85 L157.0,569.84 L160.0,569.83 L163.0,569.82 L166.0,569.82 L169.0,569.81 L172.0,569.80 L175.0,569.79 L178.0,569.78 L181.0,569.78 L184.0,569.77 L187.0,569.76 L190.0,569.75 L193.0,569.75 L196.0,569.74 L199.0,569.73 L202.0,569.72 L205.0,569.72 L208.0,569.71 L211.0,569.70 L214.0,569.70 L217.0,569.69 L220.0,569.68 L223.0,569.68 L226.0,569.67 L229.0,569.67 L232.0,569.66 L235.0,569.66 L238.0,569.65 L241.0,569.65 L244.0,569.64 L247.0,569.63 L250.0,569.63 L253.0,569.62 L256.0,569.62 L259.0,569.61 L262.0,569.61 L265.0,569.60 L268.0,569.60 L271.0,569.59 L274.0,569.59 L277.0,569.58 L280.0,569.58 L283.0,569.57 L286.0,569.57 L289.0,569.57 L292.0,569.56 L295.0,569.56 L298.0,569.55 L301.0,569.55 L304.0,569.54 L307.0,569.54 L310.0,569.53 L313.0,569.53 L316.0,569.53 L319.0,569.52 L322.0,569.52 L325.0,569.51 L328.0,569.51 L331.0,569.51 L334.0,569.51 L337.0,569.50 L340.0,569.50 L343.0,569.50 L346.0,569.50 L349.0,569.50 L352.0,569.50 L355.0,569.50 L358.0,569.50 L361.0,569.50 L364.0,569.50 L367.0,569.50 L370.0,569.50 L373.0,569.50 L376.0,569.50 L379.0,569.50 L382.0,569.50 L385.0,569.50 L388.0,569.50 L391.0,569.50 L394.0,569.50 L397.0,569.50 L400.0,569.50 L403.0,569.50 L406.0,569.50 L409.0,569.50 L412.0,569.50 L415.0,569.50 L418.0,569.50 L421.0,569.50 L424.0,569.49 L427.0,569.49 L430.0,569.48 L433.0,569.48 L436.0,569.47 L439.0,569.46 L442.0,569.45 L445.0,569.44 L448.0,569.43 L451.0,569.42 L454.0,569.40 L457.0,569.39 L460.0,569.38 L463.0,569.37 L466.0,569.36 L469.0,569.34 L472.0,569.33 L475.0,569.32 L478.0,569.31 L481.0,569.30 L484.0,569.28 L487.0,569.27 L490.0,569.26 L493.0,569.25 L496.0,569.24 L499.0,569.22 L502.0,569.21 L505.0,569.20 L508.0,569.19 L511.0,569.18 L514.0,569.16 L517.0,569.15 L520.0,569.14 L523.0,569.12 L526.0,569.11 L529.0,569.10 L532.0,569.08 L535.0,569.06 L538.0,569.04 L541.0,569.03 L544.0,569.01 L547.0,568.99 L550.0,568.97 L553.0,568.95 L556.0,568.93 L559.0,568.91 L562.0,568.89 L565.0,568.86 L568.0,568.84 L571.0,568.80 L574.0,568.77 L577.0,568.73 L580.0,568.69 L583.0,568.64 L586.0,568.58 L589.0,568.53 L592.0,568.47 L595.0,568.40 L598.0,568.34 L601.0,568.27 L604.0,568.20 L607.0,568.13 L610.0,568.05 L613.0,567.97 L616.0,567.88 L619.0,567.78 L622.0,567.69 L625.0,567.58 L628.0,567.47 L631.0,567.35 L634.0,567.21 L637.0,567.07 L640.0,566.90 L643.0,566.73 L646.0,566.54 L649.0,566.35 L652.0,566.15 L655.0,565.96 L658.0,565.77 L661.0,565.60 L664.0,565.42 L667.0,565.26 L670.0,565.10 L673.0,564.93 L676.0,564.77 L679.0,564.60 L682.0,564.42 L685.0,564.24 L688.0,564.06 L691.0,563.87 L694.0,563.68 L697.0,563.50 L700.0,563.31 L703.0,563.13 L706.0,562.95 L709.0,562.78 L712.0,562.62 L715.0,562.46 L718.0,562.29 L721.0,562.12 L724.0,561.93 L727.0,561.72 L730.0,561.49 L733.0,561.24 L736.0,560.97 L739.0,560.70 L742.0,560.42 L745.0,560.16 L748.0,559.91 L751.0,559.68 L754.0,559.47 L757.0,559.29 L760.0,559.12 L763.0,558.98 L766.0,558.85 L769.0,558.73 L772.0,558.63 L775.0,558.55 L778.0,558.48 L781.0,558.43 L784.0,558.39 L787.0,558.38 L790.0,558.39 L793.0,558.42 L796.0,558.48 L799.0,558.57 L802.0,558.68 L805.0,558.81 L808.0,558.97 L811.0,559.16 L814.0,559.37 L817.0,559.60 L820.0,559.85 L823.0,560.12 L826.0,560.40 L829.0,560.69 L832.0,560.99 L835.0,561.29 L838.0,561.59 L841.0,561.89 L844.0,562.19 L847.0,562.49 L850.0,562.78 L853.0,563.07 L856.0,563.35 L859.0,563.63 L862.0,563.89 L865.0,564.13 L868.0,564.35 L871.0,564.53 L874.0,564.66 L877.0,564.74 L880.0,564.75 L883.0,564.66 L886.0,564.48 L889.0,564.25 L892.0,563.93 L895.0,563.55 L898.0,563.16 L901.0,562.72 L904.0,562.22 L907.0,561.71 L910.0,561.12 L913.0,560.33 L916.0,559.46 L919.0,558.59 L922.0,557.74 L925.0,556.90 L928.0,556.07 L931.0,555.29 L934.0,554.58 L937.0,553.89 L940.0,553.23 L943.0,552.63 L946.0,552.06 L949.0,551.51 L952.0,551.03 L955.0,550.60 L958.0,550.18 L961.0,549.79 L964.0,549.42 L967.0,549.06 L970.0,548.71 L973.0,548.37 L976.0,548.04 L979.0,547.71 L982.0,547.38 L985.0,547.05 L988.0,546.71 L991.0,546.30 L994.0,545.78 L997.0,545.24 L1000.0,544.76 L1003.0,544.43 L1006.0,544.16 L1009.0,543.87 L1012.0,543.51 L1015.0,543.10 L1018.0,542.68 L1021.0,542.26 L1024.0,541.84 L1027.0,541.42 L1030.0,541.00 L1033.0,540.58 L1036.0,540.16 L1039.0,539.75 L1042.0,539.36 L1045.0,539.00 L1048.0,538.64 L1051.0,538.29 L1054.0,537.96 L1057.0,537.63 L1060.0,537.32 L1063.0,537.06 L1066.0,536.82 L1069.0,536.59 L1072.0,536.40 L1075.0,536.25 L1078.0,536.10 L1081.0,535.96 L1084.0,535.84 L1087.0,535.72 L1090.0,535.61 L1093.0,535.54 L1096.0,535.48 L1099.0,535.42 L1102.0,535.38 L1105.0,535.35 L1108.0,535.32 L1111.0,535.26 L1114.0,535.18 L1117.0,535.09 L1120.0,534.99 L1123.0,534.85 L1126.0,534.70 L1129.0,534.55 L1132.0,534.38 L1135.0,534.20 L1138.0,534.02 L1141.0,533.90 L1144.0,533.84 L1147.0,533.80 L1150.0,533.75 L1153.0,533.71 L1156.0,533.66 L1159.0,533.62 L1162.0,533.60 L1165.0,533.60 L1168.0,533.60 L1171.0,533.55 L1174.0,533.44 L1177.0,533.32 L1180.0,533.20 L1183.0,533.08 L1186.0,532.96 L1189.0,532.82 L1192.0,532.61 L1195.0,532.35 L1198.0,532.08 L1201.0,531.86 L1204.0,531.70 L1207.0,531.55 L1210.0,531.38 L1213.0,531.16 L1216.0,530.92 L1219.0,530.69 L1222.0,530.48 L1225.0,530.30 L1228.0,530.12 L1231.0,529.97 L1234.0,529.84 L1237.0,529.72 L1240.0,529.62 L1243.0,529.58 L1246.0,529.56 L1249.0,529.54 L1252.0,529.52 L1255.0,529.52 L1258.0,529.56 L1261.0,529.62 L1264.0,529.70 L1267.0,529.89 L1270.0,530.15 L1273.0,530.42 L1276.0,530.68 L1279.0,530.92 L1282.0,531.16 L1285.0,531.40 L1288.0,531.64 L1291.0,531.88 L1294.0,532.10 L1297.0,532.25 L1300.0,532.35 L1303.0,532.42 L1306.0,532.35 L1309.0,532.06 L1312.0,531.73 L1315.0,531.37 L1318.0,530.95 L1321.0,530.50 L1324.0,530.02 L1327.0,529.39 L1330.0,528.65 L1333.0,527.88 L1336.0,526.89 L1339.0,525.60 L1342.0,524.24 L1345.0,522.78 L1348.0,521.04 L1351.0,519.18 L1354.0,517.30 L1357.0,515.63 L1360.0,514.30 L1363.0,513.46 L1366.0,512.94 L1369.0,512.63 L1372.0,512.51 L1375.0,512.50 L1378.0,512.50 L1381.0,512.45 L1384.0,512.28 L1387.0,511.84 L1390.0,511.20 L1393.0,510.55 L1396.0,509.99 L1399.0,509.58 L1402.0,509.41 L1405.0,509.30 L1408.0,508.97 L1411.0,508.53 L1414.0,508.02 L1417.0,507.33 L1420.0,506.64 L1423.0,506.29 L1426.0,506.34 L1429.0,506.87 L1432.0,508.11 L1435.0,509.80 L1438.0,511.56 L1441.0,513.46 L1444.0,515.54 L1447.0,517.45 L1450.0,519.30 L1453.0,521.33 L1456.0,523.12 L1459.0,524.46 L1461.5,525.50" stroke="#2a2a2a" stroke-dasharray="1.5 3.3 7.5 5"/>
</g>
<g font-family="Liberation Sans, sans-serif" fill="#333">
<text x="797.7" y="166.2" font-size="15" text-anchor="middle" textLength="176" lengthAdjust="spacingAndGlyphs">Spinorama Plot- EPOCH 1</text>
<text x="122.5" y="641.6" font-size="10" text-anchor="end">50</text>
<text x="122.5" y="596.0" font-size="10" text-anchor="end">55</text>
<text x="122.5" y="550.3" font-size="10" text-anchor="end">60</text>
<text x="122.5" y="504.7" font-size="10" text-anchor="end">65</text>
<text x="122.5" y="459.0" font-size="10" text-anchor="end">70</text>
<text x="122.5" y="413.4" font-size="10" text-anchor="end">75</text>
<text x="122.5" y="367.7" font-size="10" text-anchor="end">80</text>
<text x="122.5" y="322.1" font-size="10" text-anchor="end">85</text>
<text x="122.5" y="276.4" font-size="10" text-anchor="end">90</text>
<text x="122.5" y="230.8" font-size="10" text-anchor="end">95</text>
<text x="122.5" y="185.1" font-size="10" text-anchor="end">100</text>
<text x="1472" y="641.6" font-size="10">-5</text>
<text x="1472" y="596.0" font-size="10">0</text>
<text x="1472" y="550.3" font-size="10">5</text>
<text x="1472" y="504.7" font-size="10">10</text>
<text x="1472" y="459.0" font-size="10">15</text>
<text x="133.5" y="659" font-size="10" text-anchor="middle">20</text>
<text x="309.7" y="659" font-size="10" text-anchor="middle">50</text>
<text x="442.9" y="659" font-size="10" text-anchor="middle">100</text>
<text x="576.2" y="659" font-size="10" text-anchor="middle">200</text>
<text x="752.3" y="659" font-size="10" text-anchor="middle">500</text>
<text x="885.6" y="659" font-size="10" text-anchor="middle">1k</text>
<text x="1018.8" y="659" font-size="10" text-anchor="middle">2k</text>
<text x="1195.0" y="659" font-size="10" text-anchor="middle">5k</text>
<text x="1328.2" y="659" font-size="10" text-anchor="middle">10k</text>
<text x="1461.5" y="659" font-size="10" text-anchor="middle">20k</text>
<text x="798.6" y="681.5" font-size="13" text-anchor="middle">frequency (Hz)</text>
<text transform="translate(95.4,409.7) rotate(-90)" font-size="13" text-anchor="middle">level (dBSPL)</text>
<text transform="translate(1502.4,410.4) rotate(-90)" font-size="13" text-anchor="middle">directivity index (dB)</text>
</g>
<rect x="133.5" y="684.5" width="294" height="150" fill="none" stroke="#000" stroke-width="1"/>
<g fill="none" stroke-width="1.1">
<path d="M150,700H283" stroke="#8a8a8a" />
<path d="M150,716.5H283" stroke="#8a8a8a" />
<path d="M150,734.5H283" stroke="#8a8a8a" stroke-dasharray="4.33 4.33"/>
<path d="M150,751.3H283" stroke="#707070" stroke-dasharray="8.67 3.2 2.17 3.3" stroke-dashoffset="9.9"/>
<path d="M150,768H283" stroke="#666" stroke-dasharray="2 2.33"/>
<path d="M150,784.5H283" stroke="#8a8a8a" />
<path d="M150,802.5H283" stroke="#8a8a8a" stroke-dasharray="4.33 4.33"/>
<path d="M150,819.5H283" stroke="#444" stroke-dasharray="1.5 3.3 7.5 5" stroke-dashoffset="-1.8"/>
</g>
<g font-family="Liberation Sans, sans-serif" fill="#222" font-size="10.7">
<text x="302.6" y="702.7">On Axis Response</text>
<text x="302.6" y="719.6">Listening Window</text>
<text x="302.6" y="737.0">Early Reflections</text>
<text x="302.6" y="754.0">Vertical Reflections</text>
<text x="302.6" y="770.8">Horizontal Reflections</text>
<text x="302.6" y="787.4">Sound Power</text>
<text x="302.6" y="805.4">Sound Power DI</text>
<text x="302.6" y="822.4">Early Reflections DI</text>
</g>
</svg></body></html>
